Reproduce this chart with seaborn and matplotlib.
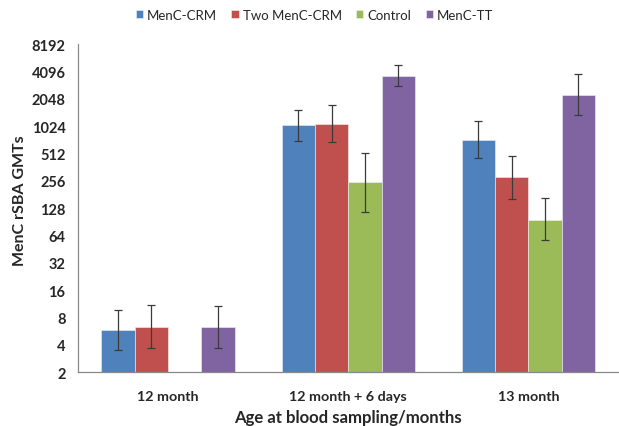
import numpy as np
import pandas as pd
import matplotlib
matplotlib.use("Agg")
import matplotlib.pyplot as plt
import seaborn as sns

# values (GMTs, log2 axis)
ages = ["12 month", "12 month + 6 days", "13 month"]
groups = ["MenC-CRM", "Two MenC-CRM", "Control", "MenC-TT"]
colors = ["#4F81BD", "#C0504D", "#9BBB59", "#8064A2"]

menc_crm = [5.8, 1045, 720]
two_menc_crm = [6.35, 1080, 280]
control = [np.nan, 247, 96]
menc_tt = [6.35, 3650, 2270]

menc_crm_lo = [3.55, 709, 452]
menc_crm_hi = [9.8, 1530, 1160]
two_menc_crm_lo = [3.73, 680, 161]
two_menc_crm_hi = [10.9, 1736, 484]
control_lo = [np.nan, 115, 57.6]
control_hi = [np.nan, 523, 166]
menc_tt_lo = [3.73, 2810, 1350]
menc_tt_hi = [10.6, 4780, 3870]

yticks = [2, 4, 8, 16, 32, 64, 128, 256, 512, 1024, 2048, 4096, 8192]

values = [menc_crm, two_menc_crm, control, menc_tt]
lows = [menc_crm_lo, two_menc_crm_lo, control_lo, menc_tt_lo]
highs = [menc_crm_hi, two_menc_crm_hi, control_hi, menc_tt_hi]

rows = []
for g, v, lo, hi in zip(groups, values, lows, highs):
    for a, val, l, h in zip(ages, v, lo, hi):
        rows.append({"age": a, "group": g, "gmt": val, "lo": l, "hi": h})
df = pd.DataFrame(rows)

sns.set_style("white")
plt.rcParams["font.family"] = ["Lato", "DejaVu Sans"]

fig = plt.figure(figsize=(6.19, 4.27), dpi=100)
ax = fig.add_axes([0.126, 0.1257, 0.873, 0.7689])

sns.barplot(data=df.dropna(subset=["gmt"]), x="age", y="gmt", hue="group",
            order=ages, hue_order=groups, palette=colors, width=0.74,
            errorbar=None, edgecolor="#f0f0f4", linewidth=0.4, saturation=1,
            ax=ax)
ax.set_yscale("log", base=2)
ax.set_ylim(2, 8192)
ax.set_xlim(-0.5, 2.5)
ax.set_yticks(yticks)
ax.set_yticklabels([str(t) for t in yticks], fontsize=10.5, fontweight="bold")
ax.yaxis.set_minor_locator(matplotlib.ticker.NullLocator())

# error bars on top of each bar
for g, cont in zip(groups, ax.containers):
    sub = df[df["group"] == g].set_index("age")
    for bar in cont:
        h = bar.get_height()
        if not np.isfinite(h) or h <= 0:
            continue
        xc = bar.get_x() + bar.get_width() / 2
        a = ages[int(round(xc))]
        r = sub.loc[a]
        ax.errorbar(xc, r["gmt"], yerr=[[r["gmt"] - r["lo"]], [r["hi"] - r["gmt"]]],
                    fmt="none", ecolor="#3a3a3a", elinewidth=0.9, capsize=3,
                    capthick=0.9, zorder=5)

# category tick marks at boundaries, labels centred
ax.set_xticks([0, 1, 2])
ax.set_xticklabels(ages, fontsize=10.3, fontweight="bold")
ax.tick_params(axis="x", length=0, pad=13)
ax.set_xticks([-0.5, 0.5, 1.5, 2.5], minor=True)
ax.tick_params(axis="x", which="minor", length=4, color="#888888", direction="out")
ax.tick_params(axis="y", length=4, color="#888888", direction="out", pad=5)

for s in ["top", "right"]:
    ax.spines[s].set_visible(False)
for s in ["left", "bottom"]:
    ax.spines[s].set_color("#888888")
    ax.spines[s].set_linewidth(0.9)

ax.set_ylabel("MenC rSBA GMTs", fontsize=11.5, fontweight="bold")
ax.yaxis.set_label_coords(-0.095, 0.525)
ax.set_xlabel("Age at blood sampling/months", fontsize=12.1, fontweight="bold", labelpad=5)

ax.legend(loc="upper center", ncol=4, frameon=False, fontsize=9.5,
          handlelength=0.55, handleheight=0.55, handletextpad=0.3, columnspacing=1.1)
ax.legend_.set_bbox_to_anchor((0.508, 1.005), transform=fig.transFigure)

fig.savefig("out.png", dpi=100)
